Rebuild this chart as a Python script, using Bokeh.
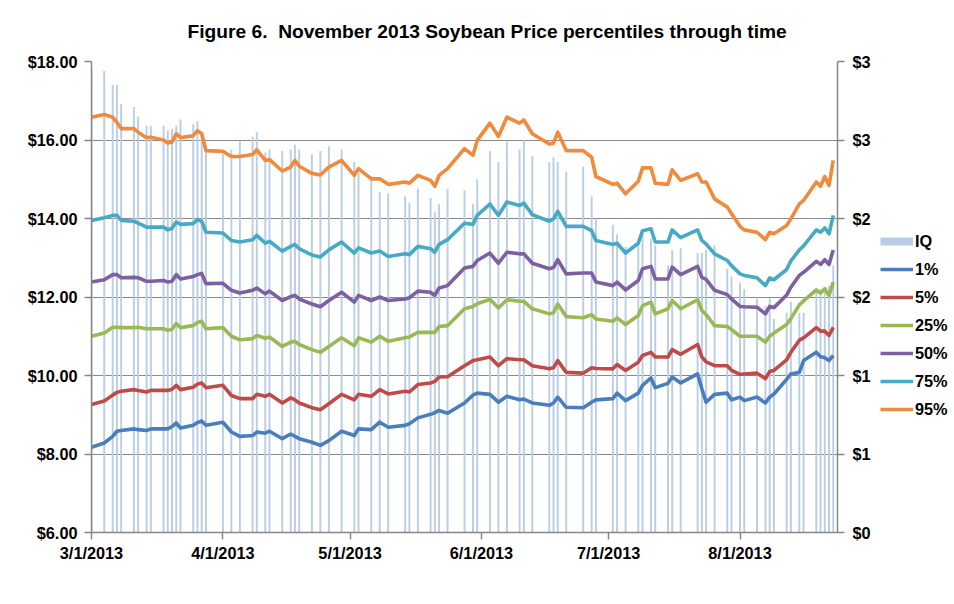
import pandas as pd
from bokeh.plotting import figure
from bokeh.layouts import row
from bokeh.models import Range1d, LinearAxis, FixedTicker, NumeralTickFormatter, Legend, LegendItem
from bokeh.embed import file_html
from bokeh.resources import INLINE

dates = ["2013-03-01","2013-03-04","2013-03-06","2013-03-07","2013-03-08","2013-03-11","2013-03-12","2013-03-14","2013-03-15","2013-03-18","2013-03-19","2013-03-20","2013-03-21","2013-03-22","2013-03-25","2013-03-26","2013-03-27","2013-03-28",
         "2013-04-01","2013-04-03","2013-04-05","2013-04-08","2013-04-09","2013-04-11","2013-04-12","2013-04-15","2013-04-17","2013-04-18","2013-04-19","2013-04-22","2013-04-24","2013-04-26","2013-04-29",
         "2013-05-02","2013-05-03","2013-05-06","2013-05-08","2013-05-10","2013-05-14","2013-05-15","2013-05-17","2013-05-20","2013-05-21","2013-05-22","2013-05-24","2013-05-28","2013-05-30","2013-05-31",
         "2013-06-03","2013-06-05","2013-06-07","2013-06-10","2013-06-11","2013-06-13","2013-06-17","2013-06-18","2013-06-19","2013-06-21","2013-06-25","2013-06-27","2013-06-28",
         "2013-07-02","2013-07-03","2013-07-05","2013-07-08","2013-07-09","2013-07-11","2013-07-12","2013-07-15","2013-07-16","2013-07-18","2013-07-22","2013-07-23","2013-07-24","2013-07-26","2013-07-29","2013-07-30",
         "2013-08-01","2013-08-02","2013-08-05","2013-08-07","2013-08-08","2013-08-09","2013-08-12","2013-08-13","2013-08-15","2013-08-16","2013-08-19","2013-08-20","2013-08-21","2013-08-22","2013-08-23"]

p95 = [16.58,16.65,16.58,16.45,16.29,16.29,16.20,16.06,16.07,16.00,15.92,15.95,16.16,16.06,16.11,16.24,16.16,15.73,
       15.71,15.58,15.58,15.63,15.75,15.48,15.50,15.21,15.31,15.48,15.33,15.15,15.11,15.31,15.48,
       15.10,15.27,15.01,15.01,14.87,14.93,14.90,15.10,14.97,14.82,15.10,15.27,15.78,15.61,15.99,
       16.43,16.09,16.58,16.43,16.51,16.16,15.90,15.92,16.20,15.73,15.73,15.56,15.07,
       14.87,14.90,14.63,14.95,15.29,15.29,14.90,14.87,15.24,14.97,15.14,14.93,14.93,14.50,14.29,14.12,
       13.80,13.71,13.65,13.46,13.65,13.61,13.82,13.99,14.37,14.46,14.93,14.82,15.07,14.84,15.48]

p75 = [13.95,14.02,14.08,14.08,13.95,13.93,13.88,13.78,13.78,13.78,13.71,13.75,13.91,13.85,13.87,13.97,13.93,13.65,
       13.63,13.44,13.40,13.46,13.57,13.37,13.42,13.17,13.29,13.34,13.23,13.07,13.02,13.20,13.40,
       13.12,13.25,13.12,13.17,13.03,13.10,13.08,13.29,13.23,13.14,13.34,13.46,13.88,13.85,14.08,
       14.37,14.08,14.42,14.33,14.39,14.10,13.93,13.99,14.18,13.80,13.80,13.69,13.44,
       13.34,13.37,13.12,13.37,13.69,13.74,13.40,13.40,13.71,13.51,13.71,13.44,13.35,13.10,12.93,12.80,
       12.59,12.55,12.49,12.29,12.49,12.44,12.70,12.92,13.20,13.30,13.71,13.65,13.76,13.61,14.08]

p50 = [12.38,12.44,12.57,12.57,12.49,12.50,12.49,12.40,12.40,12.42,12.38,12.40,12.57,12.46,12.52,12.57,12.60,12.34,
       12.35,12.17,12.10,12.17,12.23,12.08,12.15,11.91,12.01,12.04,11.95,11.82,11.75,11.91,12.12,
       11.87,12.04,11.91,12.00,11.91,11.95,11.98,12.15,12.12,12.04,12.23,12.29,12.74,12.78,12.93,
       13.12,12.86,13.14,13.10,13.10,12.86,12.72,12.75,12.95,12.59,12.61,12.61,12.38,
       12.29,12.38,12.18,12.42,12.72,12.78,12.46,12.46,12.76,12.57,12.78,12.50,12.45,12.17,12.06,11.95,
       11.76,11.75,11.74,11.57,11.76,11.73,12.05,12.25,12.55,12.63,12.91,12.83,12.95,12.83,13.20]

p25 = [11.00,11.08,11.23,11.23,11.22,11.22,11.23,11.19,11.19,11.19,11.15,11.18,11.32,11.22,11.27,11.35,11.38,11.19,
       11.22,11.00,10.91,10.94,11.02,10.95,10.98,10.74,10.85,10.87,10.79,10.66,10.59,10.74,10.96,
       10.76,10.96,10.85,11.00,10.87,10.96,10.98,11.10,11.10,11.10,11.25,11.27,11.70,11.76,11.83,
       11.94,11.72,11.93,11.89,11.89,11.70,11.57,11.60,11.82,11.50,11.47,11.55,11.44,
       11.38,11.47,11.30,11.53,11.78,11.87,11.57,11.70,11.91,11.70,11.93,11.66,11.55,11.27,11.25,11.17,
       11.00,11.00,11.00,10.85,11.00,11.08,11.30,11.45,11.80,11.90,12.18,12.10,12.21,12.04,12.38]

p05 = [9.26,9.35,9.50,9.57,9.60,9.64,9.62,9.58,9.62,9.62,9.62,9.65,9.75,9.64,9.70,9.78,9.81,9.69,
       9.75,9.49,9.41,9.41,9.52,9.47,9.52,9.30,9.43,9.38,9.30,9.18,9.13,9.28,9.52,
       9.38,9.52,9.47,9.64,9.53,9.60,9.58,9.77,9.81,9.85,9.96,9.97,10.25,10.38,10.40,
       10.47,10.25,10.43,10.40,10.40,10.25,10.17,10.20,10.38,10.08,10.06,10.20,10.18,
       10.17,10.28,10.13,10.34,10.51,10.59,10.47,10.47,10.66,10.54,10.79,10.47,10.35,10.25,10.25,10.13,
       10.03,10.04,10.06,9.92,10.10,10.13,10.40,10.59,10.90,10.96,11.22,11.13,11.13,11.02,11.23]

p01 = [8.17,8.28,8.45,8.58,8.60,8.64,8.62,8.60,8.64,8.64,8.64,8.70,8.79,8.66,8.73,8.80,8.84,8.73,
       8.81,8.56,8.45,8.47,8.56,8.53,8.58,8.39,8.51,8.45,8.39,8.30,8.22,8.34,8.58,
       8.47,8.64,8.62,8.81,8.68,8.73,8.77,8.92,9.01,9.05,9.11,9.04,9.30,9.50,9.55,
       9.52,9.32,9.47,9.38,9.40,9.30,9.24,9.30,9.45,9.19,9.18,9.32,9.38,
       9.41,9.55,9.36,9.55,9.75,9.94,9.69,9.80,9.96,9.81,10.04,9.66,9.32,9.52,9.55,9.38,
       9.45,9.36,9.45,9.30,9.45,9.53,9.90,10.04,10.08,10.38,10.59,10.48,10.45,10.38,10.51]

iq = [2.95,2.94,2.85,2.85,2.73,2.71,2.65,2.59,2.59,2.59,2.56,2.57,2.59,2.63,2.60,2.62,2.55,2.46,
      2.41,2.44,2.49,2.52,2.55,2.42,2.44,2.43,2.44,2.47,2.44,2.41,2.43,2.46,2.44,
      2.36,2.29,2.27,2.17,2.16,2.14,2.10,2.19,2.13,2.04,2.09,2.19,2.18,2.09,2.25,
      2.43,2.36,2.49,2.44,2.50,2.40,2.36,2.39,2.36,2.30,2.33,2.14,2.00,
      1.96,1.90,1.82,1.84,1.91,1.87,1.83,1.70,1.80,1.81,1.78,1.78,1.80,1.83,1.68,1.63,
      1.59,1.55,1.49,1.44,1.49,1.36,1.40,1.47,1.40,1.40,1.53,1.55,1.55,1.57,1.70]

series_names = ["1%", "5%", "25%", "50%", "75%", "95%"]
series_colors = ["#4A7EBB", "#BE4B48", "#98B954", "#7D60A0", "#46AAC5", "#F08A3C"]
iq_color = "#B9CDE5"

tick_dates = ["2013-03-01", "2013-04-01", "2013-05-01", "2013-06-01", "2013-07-01", "2013-08-01"]
tick_labels = ["3/1/2013", "4/1/2013", "5/1/2013", "6/1/2013", "7/1/2013", "8/1/2013"]
left_ticks = [6, 8, 10, 12, 14, 16, 18]
right_ticks = [0, 0.5, 1, 1.5, 2, 2.5, 3]
right_labels = ["$0", "$1", "$1", "$2", "$2", "$3", "$3"]

start = pd.Timestamp("2013-03-01")
day = [(pd.Timestamp(d) - start).days for d in dates]
tick_days = [(pd.Timestamp(d) - start).days for d in tick_dates]
all_series = [p01, p05, p25, p50, p75, p95]

FONT = "Liberation Sans"
AX = "#868686"

# ---------------- main chart ----------------
p = figure(width=879, height=604, x_range=Range1d(0, 176), y_range=Range1d(6, 18),
           output_backend="svg", toolbar_location=None,
           min_border_left=91, min_border_right=42, min_border_top=61, min_border_bottom=72)
p.extra_y_ranges = {"iq": Range1d(0, 3)}
p.outline_line_color = None

p.title.text = "Figure 6.\u00a0 November 2013 Soybean Price percentiles through time"
p.title.text_font = FONT
p.title.text_font_size = "19.2px"
p.title.text_font_style = "bold"
p.title.text_color = "black"
p.title.align = "left"
p.title.vertical_align = "top"
p.title.offset = 96
p.title.standoff = 36

p.vbar(x=day, top=iq, bottom=0, width=0.45, y_range_name="iq",
       fill_color=iq_color, line_color=None)

for vals, col in zip(all_series, series_colors):
    p.line(day, vals, line_color=col, line_width=3.6, line_join="round")

right_axis = LinearAxis(y_range_name="iq", ticker=FixedTicker(ticks=right_ticks),
                        major_label_overrides=dict(zip(right_ticks, right_labels)))
p.add_layout(right_axis, "right")

p.xaxis.ticker = FixedTicker(ticks=tick_days)
p.xaxis.major_label_overrides = dict(zip(tick_days, tick_labels))
p.yaxis[0].ticker = FixedTicker(ticks=left_ticks)
p.yaxis[0].formatter = NumeralTickFormatter(format="$0.00")

for ax in [p.xaxis[0], p.yaxis[0], right_axis]:
    ax.axis_line_color = AX
    ax.axis_line_width = 1.5
    ax.major_tick_line_color = AX
    ax.major_tick_line_width = 1.5
    ax.major_tick_out = 7
    ax.major_tick_in = 0
    ax.minor_tick_line_color = None
    ax.major_label_text_font = FONT
    ax.major_label_text_font_style = "bold"
    ax.major_label_text_font_size = "16.3px"
    ax.major_label_text_color = "black"
p.yaxis[0].major_label_standoff = 7
right_axis.major_label_standoff = 8
p.xaxis[0].major_label_standoff = 4

p.xgrid.grid_line_color = None
p.ygrid.grid_line_color = "#8a8a8a"
p.ygrid.grid_line_width = 1.2
p.ygrid.ticker = FixedTicker(ticks=left_ticks)

# ---------------- legend panel (frame aligned with the chart frame) ----------------
lg = figure(width=75, height=604, x_range=Range1d(1000, 1001), y_range=Range1d(0, 1),
            output_backend="svg", toolbar_location=None,
            x_axis_type=None, y_axis_type=None, min_border=0)
lg.outline_line_color = None
iq_line = lg.line(day, iq, line_color=iq_color, line_width=8)
items = [LegendItem(label="IQ", renderers=[iq_line])]
for name, vals, col in zip(series_names, all_series, series_colors):
    r = lg.line(day, vals, line_color=col, line_width=3.6)
    items.append(LegendItem(label=name, renderers=[r]))
legend = Legend(items=items, location=(1, 109))
legend.border_line_color = None
legend.background_fill_alpha = 0
legend.glyph_width = 33
legend.glyph_height = 28
legend.label_height = 28
legend.spacing = 0
legend.padding = 0
legend.margin = 0
legend.label_standoff = 2
legend.label_text_font = FONT
legend.label_text_font_style = "bold"
legend.label_text_font_size = "16.3px"
legend.label_text_color = "black"
lg.add_layout(legend)

layout = row(p, lg)
open("out.html", "w").write(file_html(layout, INLINE))
